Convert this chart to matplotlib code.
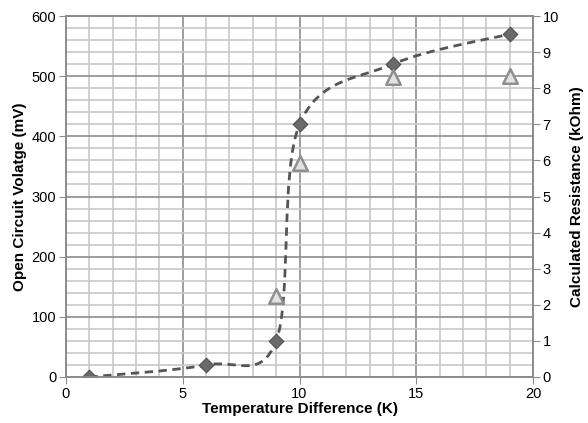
import numpy as np
import matplotlib
matplotlib.use('Agg')
import matplotlib.pyplot as plt
from matplotlib.path import Path
from matplotlib.patches import PathPatch

plt.rcParams['font.family'] = ['Liberation Sans', 'DejaVu Sans']

# data
temp_diff = [1, 6, 9, 10, 14, 19]
voltage_mv = [0, 20, 60, 420, 520, 570]
res_temp = [9, 10, 14, 19]
resistance_kohm = [2.25, 5.93, 8.3, 8.35]

fig = plt.figure(figsize=(5.88, 4.23), dpi=100)
ax1 = fig.add_axes([66/588, 1 - 377/423, (533-66)/588, (377-16)/423])
ax2 = ax1.twinx()

ax1.set_xlim(0, 20)
ax1.set_ylim(0, 600)
ax2.set_ylim(0, 10)

ax1.set_xticks(np.arange(0, 21, 5))
ax1.set_xticks(np.arange(0, 21, 1), minor=True)
ax1.set_yticks(np.arange(0, 601, 100))
ax1.set_yticks(np.arange(0, 601, 20), minor=True)
ax2.set_yticks(np.arange(0, 11, 1))

ax1.grid(which='minor', color='#c8c8c8', lw=1.2)
ax1.grid(which='major', color='#8c8c8c', lw=1.2)
ax1.set_axisbelow(True)
ax1.tick_params(which='minor', length=0)
ax1.tick_params(which='major', length=5, color='#8c8c8c', labelsize=10.5, pad=2)
ax2.tick_params(length=5, color='#8c8c8c', labelsize=10.5, pad=2)
for ax in (ax1, ax2):
    for s in ax.spines.values():
        s.set_color('#8c8c8c')
        s.set_linewidth(1.2)

# smooth dashed line (Excel-style Catmull-Rom bezier through the diamonds)
pts = np.column_stack([temp_diff, voltage_mv]).astype(float)
verts = [pts[0]]
codes = [Path.MOVETO]
n = len(pts)
for i in range(n - 1):
    p0 = pts[max(i - 1, 0)]
    p1 = pts[i]
    p2 = pts[i + 1]
    p3 = pts[min(i + 2, n - 1)]
    c1 = p1 + (p2 - p0) / 6
    c2 = p2 - (p3 - p1) / 6
    verts += [c1, c2, p2]
    codes += [Path.CURVE4] * 3
ax1.add_patch(PathPatch(Path(verts, codes), fill=False, ec='#555555', lw=2,
                        ls=(0, (3, 2)), zorder=3))

ax1.scatter(temp_diff, voltage_mv, marker='D', s=55, c='#6a6a6a',
            edgecolors='#505050', linewidths=0.8, zorder=4)
ax2.scatter(res_temp, resistance_kohm, marker='^', s=110, c='#e2e2e2',
            edgecolors='#8f8f8f', linewidths=1.8, zorder=4)

ax1.set_xlabel('Temperature Difference (K)', fontweight='bold', fontsize=11, labelpad=1)
ax1.set_ylabel('Open Circuit Volatge (mV)', fontweight='bold', fontsize=11, labelpad=3)
ax2.set_ylabel('Calculated Resistance (kOhm)', fontweight='bold', fontsize=11, labelpad=8)

fig.savefig('out.png', dpi=100)
